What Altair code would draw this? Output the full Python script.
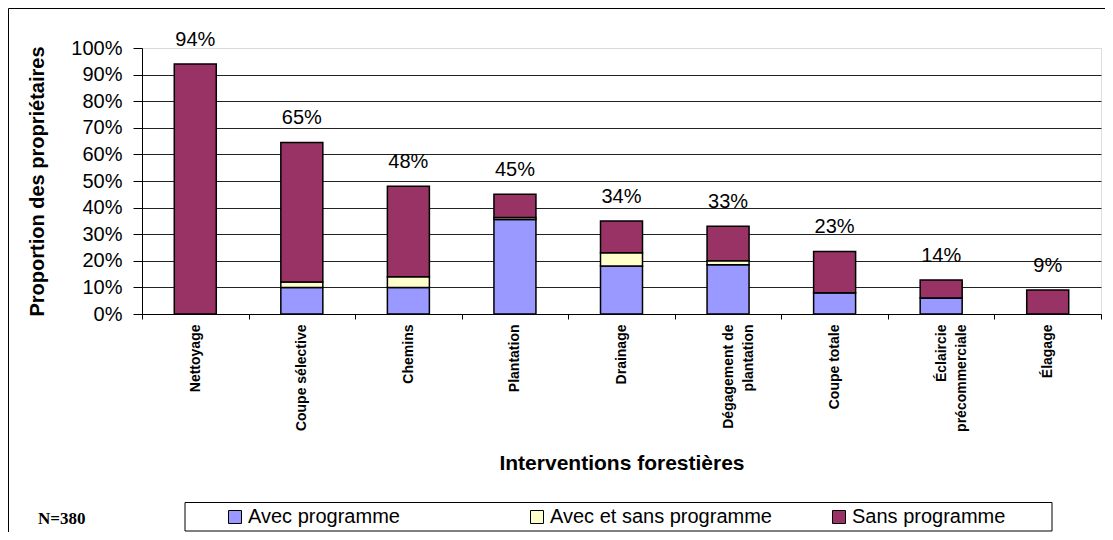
import altair as alt
import pandas as pd

# ---- data ----
categories = ["Nettoyage", "Coupe sélective", "Chemins", "Plantation", "Drainage",
              "Dégagement de|plantation", "Coupe totale", "Éclaircie|précommerciale", "Élagage"]
series = ["Avec programme", "Avec et sans programme", "Sans programme"]
avec_programme = [0, 10, 10, 35.5, 18, 18.5, 8, 6, 0]
avec_et_sans = [0, 2, 4, 0.8, 5, 1.5, 0, 0, 0]
sans_programme = [94, 52.5, 34, 8.7, 12, 13, 15.5, 6.8, 9]
totals = [94, 64.5, 48, 45, 35, 33, 23.5, 12.8, 9]
total_labels = ["94%", "65%", "48%", "45%", "34%", "33%", "23%", "14%", "9%"]
y_ticks = [0, 10, 20, 30, 40, 50, 60, 70, 80, 90, 100]
colors = ["#9999FF", "#FFFFCC", "#993366"]

rows = []
for i, c in enumerate(categories):
    for j, (s, vals) in enumerate(zip(series, [avec_programme, avec_et_sans, sans_programme])):
        rows.append({"cat": c, "serie": s, "order": j, "val": vals[i]})
df = pd.DataFrame(rows)
df_lab = pd.DataFrame({"cat": categories, "val": totals, "label": total_labels})
one = pd.DataFrame({"a": [0]})

FONT = "Liberation Sans"

x_axis = alt.Axis(title="Interventions forestières", labelAngle=-90,
                  labelExpr="split(datum.label, '|')",
                  labelFont=FONT, labelFontSize=14, labelFontWeight="bold",
                  labelColor="black", labelLineHeight=20, labelPadding=5,
                  labelLimit=300, labelOverlap=False,
                  tickBand="extent", tickSize=5, tickColor="black",
                  domainColor="black", grid=False,
                  titleFont=FONT, titleFontSize=21, titleFontWeight="bold",
                  titleColor="black", titleY=149, titleBaseline="middle")
y_axis = alt.Axis(title="Proportion des propriétaires", values=y_ticks,
                  labelExpr="datum.value + '%'", labelOverlap=False,
                  labelFont=FONT, labelFontSize=20, labelColor="black",
                  labelPadding=11, tickSize=9, tickColor="black",
                  domainColor="black",
                  gridColor={"condition": {"test": "datum.value >= 100", "value": "#d9d9d9"},
                             "value": "#222222"},
                  titleFont=FONT, titleFontSize=20, titleFontWeight="bold",
                  titleColor="black", titleX=-105, titleY=133,
                  titleBaseline="middle")
x_scale = alt.Scale(paddingInner=0, paddingOuter=0)
y_scale = alt.Scale(domain=[0, 100], nice=False)

bars = alt.Chart(df).mark_bar(size=42, stroke="black", strokeWidth=1.5).encode(
    x=alt.X("cat:N", sort=categories, scale=x_scale, axis=x_axis),
    y=alt.Y("val:Q", stack="zero", scale=y_scale, axis=y_axis),
    color=alt.Color("serie:N", sort=series,
                    scale=alt.Scale(domain=series, range=colors),
                    legend=alt.Legend(title=None, orient="none", legendX=83, legendY=459,
                                      direction="horizontal", columns=3, gridAlign="all",
                                      columnPadding=57, padding=0,
                                      symbolType="square", symbolSize=169,
                                      symbolStrokeColor="black", symbolStrokeWidth=1,
                                      labelFont=FONT, labelFontSize=20, labelColor="black",
                                      labelOffset=3, labelLimit=400)),
    order=alt.Order("order:Q"),
)

labels = alt.Chart(df_lab).mark_text(font=FONT, fontSize=20, color="black",
                                     baseline="middle", dy=-24).encode(
    x=alt.X("cat:N", sort=categories, scale=x_scale, axis=x_axis),
    y=alt.Y("val:Q", scale=y_scale, axis=y_axis),
    text="label:N",
)

legend_box = alt.Chart(one).mark_rect(fill=None, stroke="black", strokeWidth=1).encode(
    x=alt.value(43), x2=alt.value(910), y=alt.value(454.5), y2=alt.value(483)
)

n_text = alt.Chart(one).mark_text(text="N=380", font="Liberation Serif", fontSize=17,
                                  fontWeight="bold", color="black", align="left",
                                  baseline="middle").encode(
    x=alt.value(-104), y=alt.value(471)
)

border_left = alt.Chart(one).mark_rule(color="black", strokeWidth=1).encode(
    x=alt.value(-133.5), y=alt.value(-39.5), y2=alt.value(484)
)
border_top = alt.Chart(one).mark_rule(color="black", strokeWidth=1).encode(
    x=alt.value(-133.5), x2=alt.value(963), y=alt.value(-39.5)
)

chart = alt.layer(bars, labels, legend_box, n_text, border_left, border_top).properties(
    width=959, height=266,
    autosize=alt.AutoSizeParams(type="none"),
    padding={"left": 134, "top": 40, "right": 4, "bottom": 218},
).configure_view(stroke=None).configure(background="white")

chart.save("out.html", embed_options={"renderer": "svg", "actions": False})
